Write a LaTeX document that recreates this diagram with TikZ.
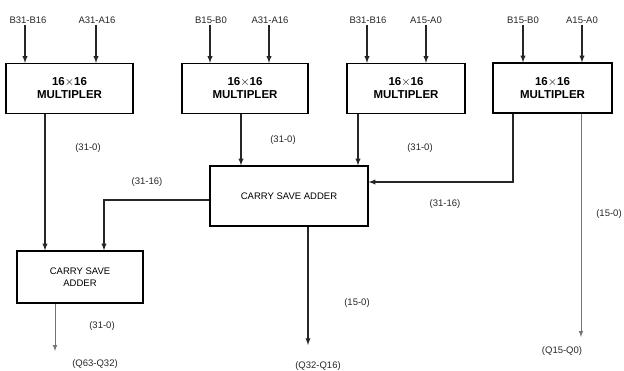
\documentclass[tikz,border=0pt]{standalone}
\usepackage{fontspec}
\setmainfont{Liberation Sans}
\usetikzlibrary{positioning,shapes,arrows}

\begin{document}
\begin{tikzpicture}[
  x=1pt,y=-1pt,
  mulnode/.style={draw,line width=1.2pt,rectangle,minimum width=#1,minimum height=50pt,
    align=center,inner sep=0pt,font=\fontsize{11.5}{13}\selectfont\bfseries},
  csanode/.style={draw,line width=1.2pt,rectangle,align=center,inner sep=0pt,
    font=\fontsize{9.5}{12}\selectfont},
  lbl/.style={inner sep=1pt,text=black!85,font=\fontsize{9.5}{11}\selectfont},
  arr/.style={-latex,line width=1.3pt,draw=black!85},
  thinarr/.style={-latex,line width=1pt,draw=black!55}
]
\useasboundingbox (0,0) rectangle (624,370);

% multipliers
\node[mulnode=127pt] (m1) at (69.5,88.5) {16$\times$16\\MULTIPLER};
\node[mulnode=126pt] (m2) at (245,88.5) {16$\times$16\\MULTIPLER};
\node[mulnode=118pt] (m3) at (406,88.5) {16$\times$16\\MULTIPLER};
\node[mulnode=119pt] (m4) at (552.5,88) {16$\times$16\\MULTIPLER};

% adders
\node[csanode,minimum width=158pt,minimum height=60pt] (csa1) at (289,196) {CARRY SAVE ADDER};
\node[csanode,minimum width=126pt,minimum height=52pt] (csa2) at (80,277) {CARRY SAVE\\ADDER};

% inputs
\node[lbl] (b1) at (28,20) {B31-B16};
\node[lbl] (a1) at (97,20) {A31-A16};
\node[lbl] (b2) at (211,20) {B15-B0};
\node[lbl] (a2) at (270,20) {A31-A16};
\node[lbl] (b3) at (368,20) {B31-B16};
\node[lbl] (a3) at (426,20) {A15-A0};
\node[lbl] (b4) at (523,20) {B15-B0};
\node[lbl] (a4) at (582,20) {A15-A0};

\draw[arr] ([xshift=-3pt]b1.south) -- ([xshift=-3pt]b1.south |- m1.north);
\draw[arr] ([xshift=-1pt]a1.south) -- ([xshift=-1pt]a1.south |- m1.north);
\draw[arr] ([xshift=-1pt]b2.south) -- ([xshift=-1pt]b2.south |- m2.north);
\draw[arr] ([xshift=-1pt]a2.south) -- ([xshift=-1pt]a2.south |- m2.north);
\draw[arr] ([xshift=-1pt]b3.south) -- ([xshift=-1pt]b3.south |- m3.north);
\draw[arr] (a3.south) -- (a3.south |- m3.north);
\draw[arr] (b4.south) -- (b4.south |- m4.north);
\draw[arr] (a4.south) -- (a4.south |- m4.north);

% outputs
\node[lbl] (q1) at (95,364) {(Q63-Q32)};
\node[lbl] (q2) at (318,366) {(Q32-Q16)};
\node[lbl] (q3) at (562,351) {(Q15-Q0)};
\coordinate (e1) at (55,351);
\coordinate (e2) at (308,345);
\coordinate (e3) at (581,337);

% connections
\draw[arr] ([xshift=-24.5pt]m1.south) -- ([xshift=-24.5pt]m1.south |- csa2.north);
\draw[arr] ([xshift=-4pt]m2.south) -- ([xshift=-4pt]m2.south |- csa1.north);
\draw[arr] ([xshift=-48pt]m3.south) -- ([xshift=-48pt]m3.south |- csa1.north);
\draw[arr] ([xshift=-39.5pt]m4.south) |- ([yshift=14pt]csa1.east);
\draw[thinarr] ([xshift=28.5pt]m4.south) -- (e3);
\draw[arr] ([yshift=-4pt]csa1.west) -| ([xshift=24pt]csa2.north);
\draw[arr] ([xshift=19pt]csa1.south) -- (e2);
\draw[thinarr] ([xshift=-25pt]csa2.south) -- (e1);

% bus widths
\node[lbl] (w1) at (88,148) {(31-0)};
\node[lbl] (w2) at (283,140) {(31-0)};
\node[lbl] (w3) at (420,148) {(31-0)};
\node[lbl] (w4) at (147,182) {(31-16)};
\node[lbl] (w5) at (445,204) {(31-16)};
\node[lbl] (w6) at (609,214) {(15-0)};
\node[lbl] (w7) at (357,303) {(15-0)};
\node[lbl] (w8) at (102,326) {(31-0)};

\end{tikzpicture}
\end{document}
